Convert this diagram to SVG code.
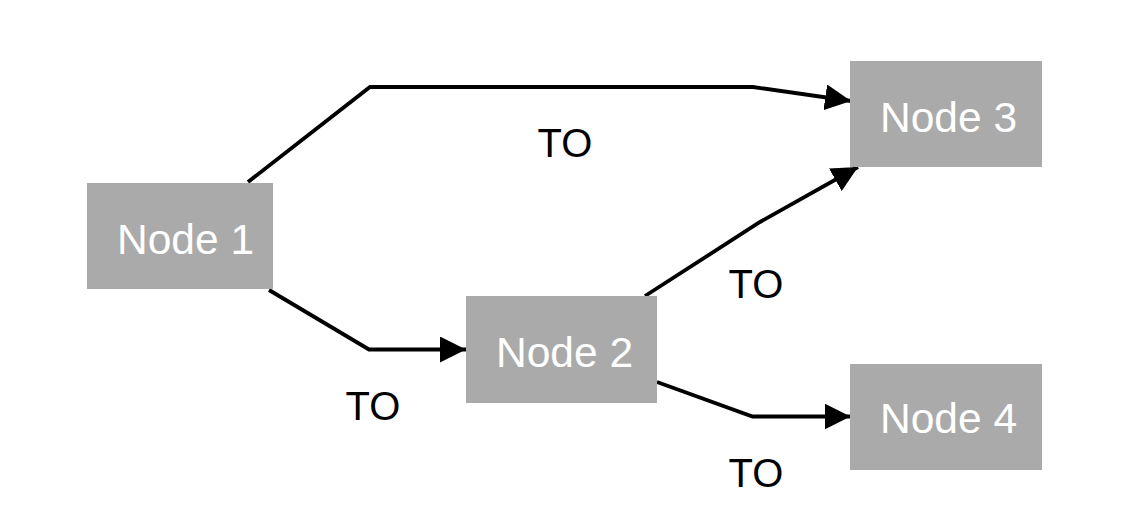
<svg xmlns="http://www.w3.org/2000/svg" width="1144" height="524" viewBox="0 0 1144 524">
<style>
.node rect{fill:#aaaaaa;}
.node text{fill:#ffffff;font-family:"Liberation Sans",Arial,sans-serif;font-size:42.5px;}
.edge path{fill:none;stroke:#000;stroke-width:3.8;stroke-linejoin:miter;}
.label{fill:#000;font-family:"Liberation Sans",Arial,sans-serif;font-size:40px;text-anchor:middle;}
</style>
<defs>
<marker id="arrow" markerUnits="userSpaceOnUse" markerWidth="26" markerHeight="26" viewBox="0 0 24 24" refX="24" refY="12" orient="auto">
<polygon points="0,0 24,12 0,24" fill="#000"/>
</marker>
</defs>
<rect width="1144" height="524" fill="#fff"/>
<g id="connectors">
<g class="edge" id="e1-3"><path d="M248,182 L370,87 L753,87 L851,101" marker-end="url(#arrow)"/><text class="label" x="565" y="157">TO</text></g>
<g class="edge" id="e1-2"><path d="M269,290 L369,349.5 L466,349.5" marker-end="url(#arrow)"/><text class="label" x="373" y="420">TO</text></g>
<g class="edge" id="e2-3"><path d="M645,296 L760,222 L858,167" marker-end="url(#arrow)"/><text class="label" x="756" y="298">TO</text></g>
<g class="edge" id="e2-4"><path d="M657,382 L752.5,416.5 L850.5,416.5" marker-end="url(#arrow)"/><text class="label" x="756" y="487">TO</text></g>
</g>
<g class="node" id="node1"><rect x="87" y="183" width="186" height="106"/><text x="117" y="254">Node 1</text></g>
<g class="node" id="node2"><rect x="466" y="296" width="191" height="107"/><text x="496" y="367">Node 2</text></g>
<g class="node" id="node3"><rect x="850" y="61" width="192" height="106"/><text x="880" y="132">Node 3</text></g>
<g class="node" id="node4"><rect x="850" y="364" width="192" height="106"/><text x="880" y="433">Node 4</text></g>
</svg>
